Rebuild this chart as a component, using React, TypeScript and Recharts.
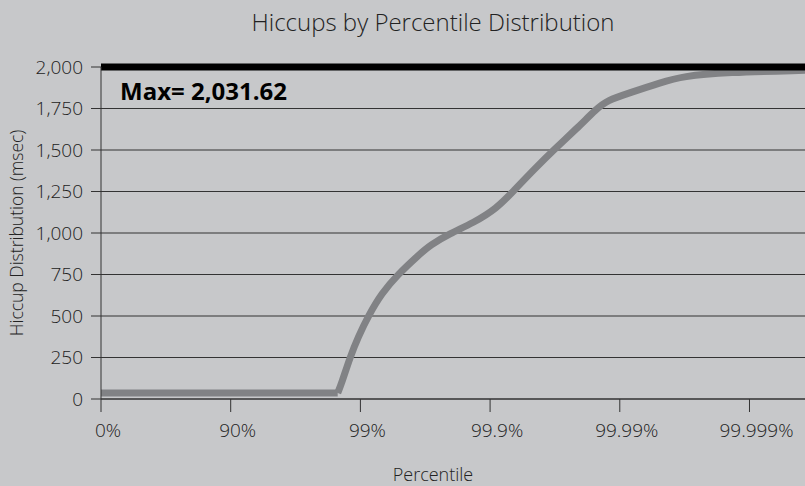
import { LineChart, Line, XAxis, YAxis, CartesianGrid, ReferenceLine } from 'recharts';

// x is in "nines": 0 = 0%, 1 = 90%, 2 = 99%, 3 = 99.9% ...
const nines = [
  0, 1.825, 1.856, 1.92, 1.984, 2.061, 2.164, 2.292, 2.446, 2.537, 2.691, 2.871,
  3.051, 3.179, 3.333, 3.487, 3.668, 3.822, 3.9, 4.079, 4.31, 4.487, 4.82, 5.428,
];
const hiccupMs = [
  36, 36, 96, 252, 376, 500, 637, 753, 865, 927, 997, 1061,
  1148, 1252, 1378, 1498, 1629, 1749, 1798, 1845, 1905, 1945, 1968, 1980,
];
// index where the flat part ends and the climb begins
const kneeIndex = 1;

const xTicks = [0, 1, 2, 3, 4, 5];
const xTickLabels = ['0%', '90%', '99%', '99.9%', '99.99%', '99.999%'];
const yTicks = [0, 250, 500, 750, 1000, 1250, 1500, 1750, 2000];

const maxValue = 2031.62;

const data = nines.map((n, i) => ({
  nines: n,
  flat: i <= kneeIndex ? hiccupMs[i] : null,
  rise: i >= kneeIndex ? hiccupMs[i] : null,
}));

const font = '"Open Sans", "Liberation Sans", Arial, sans-serif';
const ink = '#222';
const curve = '#818285';

function XTick({ x, y, payload }: any) {
  return (
    <text x={x + 7} y={y + 16} textAnchor="middle" dominantBaseline="central" fill={ink} fontSize={19} fontWeight={300} fontFamily={font}>
      {xTickLabels[xTicks.indexOf(payload.value)]}
    </text>
  );
}

export default function App() {
  return (
    <div style={{ position: 'fixed', left: 0, top: 0, width: 805, height: 486, background: '#c7c8ca', fontFamily: font }}>
      <div style={{ position: 'absolute', top: 8, left: 0, width: 866, textAlign: 'center', fontSize: 24, fontWeight: 300, color: ink, lineHeight: '28px' }}>
        Hiccups by Percentile Distribution
      </div>
      <LineChart width={805} height={486} data={data} margin={{ top: 67, right: 0, bottom: 0, left: 0 }}>
        <CartesianGrid horizontal vertical={false} stroke="#333" strokeWidth={1} fill="none" />
        <XAxis
          dataKey="nines"
          type="number"
          domain={[0, 5.428]}
          ticks={xTicks}
          allowDataOverflow
          height={87}
          stroke="#333"
          tickSize={13}
          tickLine={{ stroke: '#333' }}
          tick={<XTick />}
          label={({ viewBox }: any) => (
            <text x={433} y={viewBox.y + 75} textAnchor="middle" dominantBaseline="central" fill={ink} fontSize={18} fontWeight={300} fontFamily={font}>
              Percentile
            </text>
          )}
        />
        <YAxis
          type="number"
          domain={[0, 2000]}
          ticks={yTicks}
          width={101}
          stroke="#333"
          tickSize={10}
          tickMargin={8}
          tickFormatter={(v: number) => v.toLocaleString('en-US')}
          tick={{ fill: ink, fontSize: 19, fontWeight: 300, fontFamily: font }}
          label={({ viewBox }: any) => (
            <text
              x={16}
              y={viewBox.y + viewBox.height / 2}
              transform={`rotate(-90 16 ${viewBox.y + viewBox.height / 2})`}
              textAnchor="middle"
              dominantBaseline="central"
              fill={ink}
              fontSize={17.5}
              fontWeight={300}
              fontFamily={font}
            >
              Hiccup Distribution (msec)
            </text>
          )}
        />
        <Line type="linear" dataKey="flat" stroke={curve} strokeWidth={7} dot={false} connectNulls={false} isAnimationActive={false} />
        <Line type="basis" dataKey="rise" stroke={curve} strokeWidth={7} dot={false} connectNulls={false} isAnimationActive={false} />
        <ReferenceLine
          y={2000}
          stroke="#000"
          strokeWidth={7}
          label={({ viewBox }: any) => (
            <text x={viewBox.x + 19} y={viewBox.y + 23} dominantBaseline="central" fill="#000" fontSize={24} fontWeight="bold" fontFamily={font}>
              {`Max= ${maxValue.toLocaleString('en-US', { minimumFractionDigits: 2 })}`}
            </text>
          )}
        />
      </LineChart>
    </div>
  );
}
